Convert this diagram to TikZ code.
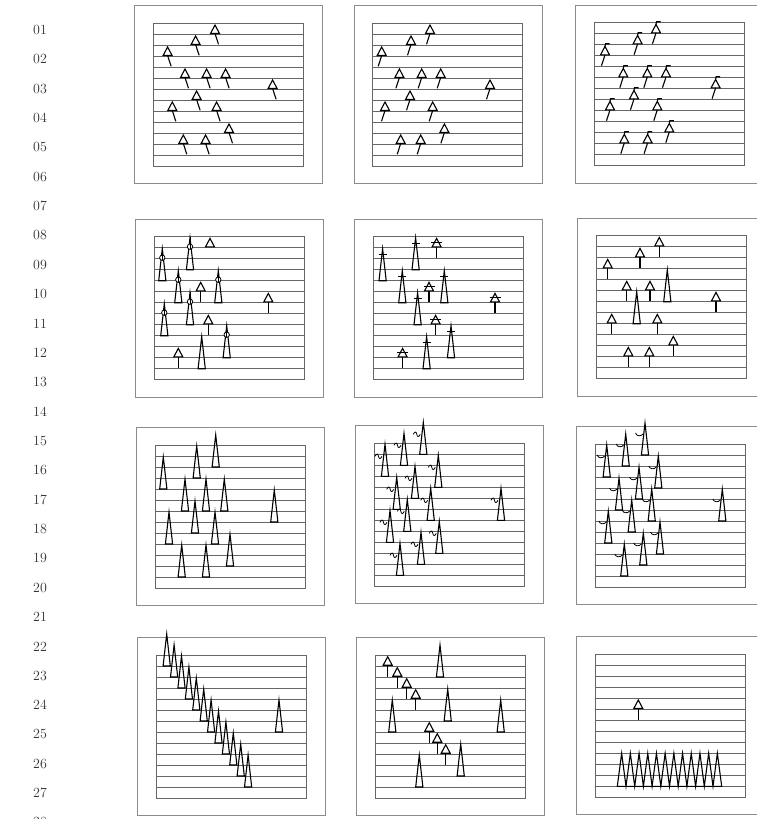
\documentclass[tikz,border=0pt]{standalone}

\tikzset{
  frame/.style={draw=black!45,line width=0.8pt},
  staffline/.style={draw=black!60,line width=0.7pt},
  glyph/.style={draw=black,line width=1.1pt,line join=miter},
  thinglyph/.style={draw=black,line width=0.8pt},
  lineno/.style={font=\fontsize{14}{16}\selectfont,text=black!80},
}

% staff: outer frame, inner box and 12 lines (scope origin = inner top left)
\newcommand{\gStaff}{%
  \draw[frame] (-18.5,-17.5) rectangle ++(188,178);
  \draw[staffline] (0,0) rectangle (150,143);
  \foreach \k in {1,...,12} \draw[staffline] (0,{11*\k}) -- (150,{11*\k});
}
% glyphs: #1 = x in the staff, #2 = line of the base
\newcommand{\gTri}[2]{\draw[glyph] ({#1-4.5},{11*(#2)-0.8}) -- ({#1},{11*(#2)-9.3}) -- ({#1+4.5},{11*(#2)-0.8}) -- cycle;}
\newcommand{\gTail}[3]{\draw[glyph] ({#1},{11*(#2)-0.8}) -- ({#1+#3},{11*(#2)+10});}
\newcommand{\gStem}[2]{\draw[glyph] ({#1},{11*(#2)-0.8}) -- ({#1},{11*(#2)+10.5});}
\newcommand{\gFlag}[2]{\draw[glyph] ({#1},{11*(#2)-9.3}) -- ({#1+0.5},{11*(#2)-12}) -- ({#1+4.5},{11*(#2)-12});}
\newcommand{\gTriBar}[2]{\draw[glyph] ({#1-5.5},{11*(#2)-5.5}) -- ({#1+5.5},{11*(#2)-5.5});}
\newcommand{\gSpire}[2]{\draw[glyph] ({#1-3.6},{11*(#2)}) -- ({#1},{11*(#2)-32}) -- ({#1+3.6},{11*(#2)}) -- cycle;}
\newcommand{\gRing}[2]{\draw[thinglyph,fill=white] ({#1},{11*(#2)-23}) circle (2.7); \draw[thinglyph] ({#1},{11*(#2)-33}) -- ({#1},{11*(#2)-20.3});}
\newcommand{\gSpireBar}[2]{\draw[glyph] ({#1-4},{11*(#2)-26}) -- ({#1+4},{11*(#2)-26});}
\newcommand{\gWave}[2]{\draw[thinglyph] ({#1-10},{11*(#2)-20}) .. controls ({#1-8.5},{11*(#2)-23}) and ({#1-7},{11*(#2)-23}) .. ({#1-6.5},{11*(#2)-20}) .. controls ({#1-6},{11*(#2)-17}) and ({#1-4.5},{11*(#2)-17}) .. ({#1-3},{11*(#2)-20});}
\newcommand{\gBow}[2]{\draw[thinglyph] ({#1-9.5},{11*(#2)-22}) .. controls ({#1-8.5},{11*(#2)-18.5}) and ({#1-4},{11*(#2)-18.5}) .. ({#1-2},{11*(#2)-21});}

\begin{document}
\begin{tikzpicture}[x=1pt,y=-1pt]
\useasboundingbox (0,0) rectangle (757,819);

% line numbers
\foreach \i in {1,...,28}
  \node[lineno] (l\i) at (40,{30+29.35*(\i-1)}) {\ifnum\i<10 0\fi\i};

% row 1
\begin{scope}[shift={(153.3,23.3)}]
  \gStaff
  \foreach \x/\b in {61.7/1,42.3/2,14.3/3,31.7/5,53.3/5,72.3/5,119.3/6,43.3/7,19/8,63.3/8,75.7/10,30/11,52.3/11}
    {\gTri{\x}{\b}\gTail{\x}{\b}{3.5}}
\end{scope}
\begin{scope}[shift={(372.7,23.3)}]
  \gStaff
  \foreach \x/\b in {57.3/1,38.3/2,9/3,26.7/5,49/5,68/5,117.3/6,37.3/7,12.3/8,60/8,71.7/10,28/11,48/11}
    {\gTri{\x}{\b}\gTail{\x}{\b}{-3.5}}
\end{scope}
\begin{scope}[shift={(594.3,22.7)}]
  \gStaff
  \foreach \x/\b in {61.7/1,43.3/2,10.7/3,29/5,53/5,71.7/5,121.3/6,39.7/7,15.7/8,63/8,75/10,30/11,53.3/11}
    {\gTri{\x}{\b}\gTail{\x}{\b}{-3.5}\gFlag{\x}{\b}}
\end{scope}

% row 2
\begin{scope}[shift={(154,236.7)}]
  \gStaff
  \foreach \x/\b in {36/3,8.3/4,24.3/6,64.3/6,36/8,10.3/9,72.7/11}
    {\gSpire{\x}{\b}\gRing{\x}{\b}}
  \gSpire{47.7}{12}
  \gTri{56}{1}
  \foreach \x/\b in {46.7/5,114.3/6,54.3/8,24.3/11}
    {\gTri{\x}{\b}\gStem{\x}{\b}}
\end{scope}
\begin{scope}[shift={(373.3,236.7)}]
  \gStaff
  \foreach \x/\b in {42.3/3,9.3/4,29/6,71/6,44.3/8,77.7/11,53.3/12}
    {\gSpire{\x}{\b}\gSpireBar{\x}{\b}}
  \foreach \x/\b in {63.3/1,55.7/5,121.7/6,62.3/8,29.3/11}
    {\gTri{\x}{\b}\gTriBar{\x}{\b}\gStem{\x}{\b}}
\end{scope}
\begin{scope}[shift={(596,235.7)}]
  \gStaff
  \foreach \x/\b in {63.3/1,44/2,11.7/3,30.7/5,54/5,120/6,15.7/8,61.3/8,77.3/10,32.3/11,53.3/11}
    {\gTri{\x}{\b}\gStem{\x}{\b}}
  \gSpire{71.3}{6}
  \gSpire{40.7}{8}
\end{scope}

% row 3
\begin{scope}[shift={(155,445)}]
  \gStaff
  \foreach \x/\b in {60.7/2,41.7/3,8.3/4,30/6,51/6,69.3/6,119.3/7,40/8,14/9,60/9,75/11,26.7/12,51/12}
    {\gSpire{\x}{\b}}
\end{scope}
\begin{scope}[shift={(374,443.3)}]
  \gStaff
  \foreach \x/\b in {49.3/1,30/2,11/3,64.3/4,41/5,22.7/6,56.7/7,127/7,33.3/8,16/9,65.3/10,47/11,26/12}
    {\gSpire{\x}{\b}\gWave{\x}{\b}}
\end{scope}
\begin{scope}[shift={(595,444)}]
  \gStaff
  \foreach \x/\b in {50/1,30.7/2,11.7/3,63.3/4,44/5,24/6,56.7/7,127.3/7,36.7/8,13.3/9,65/10,48.3/11,29.3/12}
    {\gSpire{\x}{\b}\gBow{\x}{\b}}
\end{scope}

% row 4
\begin{scope}[shift={(156,655)}]
  \gStaff
  \foreach \i in {0,...,11} {\gSpire{10.7+7.4*\i}{\i+1}}
  \gSpire{123}{7}
\end{scope}
\begin{scope}[shift={(375,655)}]
  \gStaff
  \foreach \x/\b in {12.7/1,22.3/2,31.7/3,40.7/4,54.3/7,62.3/8,70.7/9}
    {\gTri{\x}{\b}\gStem{\x}{\b}}
  \foreach \x/\b in {65/2,72.7/6,17.3/7,125.7/7,85.7/11,44.3/12}
    {\gSpire{\x}{\b}}
\end{scope}
\begin{scope}[shift={(595,654.3)}]
  \gStaff
  \gTri{43.3}{5}\gStem{43.3}{5}
  \draw[glyph] (22.3,132) \foreach \i in {0,...,11} {-- ({26.65+8.7*\i},99) -- ({31+8.7*\i},132)} -- cycle;
\end{scope}
\end{tikzpicture}
\end{document}
